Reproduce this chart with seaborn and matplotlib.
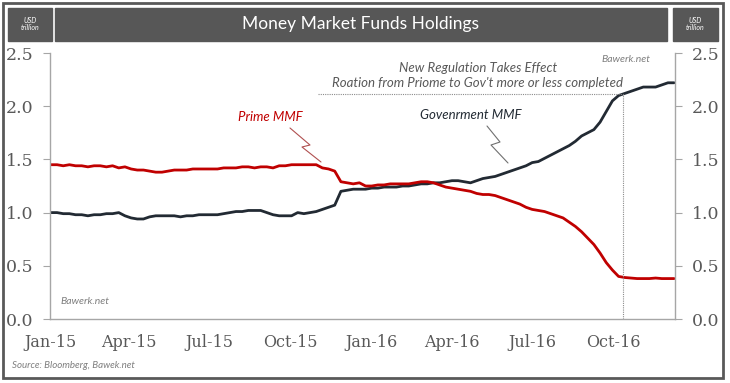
import pandas as pd
import matplotlib.pyplot as plt
import seaborn as sns
from matplotlib.patches import Rectangle
from matplotlib.lines import Line2D

# ----------------------------------------------------------
# Data (USD trillion, weekly)
# ----------------------------------------------------------

start_date = "2015-01-02"

government = [
    1.00, 1.00, 0.99, 0.99, 0.98, 0.98, 0.97, 0.98, 0.98, 0.99,
    0.99, 1.00, 0.97, 0.95, 0.94, 0.94, 0.96, 0.97, 0.97, 0.97,
    0.97, 0.96, 0.97, 0.97, 0.98, 0.98, 0.98, 0.98, 0.99, 1.00,
    1.01, 1.01, 1.02, 1.02, 1.02, 1.00, 0.98, 0.97, 0.97, 0.97,
    1.00, 0.99, 1.00, 1.01, 1.03, 1.05, 1.07, 1.20, 1.21, 1.22,
    1.22, 1.22, 1.23, 1.23, 1.24, 1.24, 1.24, 1.25, 1.25, 1.26,
    1.27, 1.27, 1.28, 1.28, 1.29, 1.30, 1.30, 1.29, 1.28, 1.30,
    1.32, 1.33, 1.34, 1.36, 1.38, 1.40, 1.42, 1.44, 1.47, 1.48,
    1.51, 1.54, 1.57, 1.60, 1.63, 1.67, 1.72, 1.75, 1.78, 1.85,
    1.95, 2.05, 2.10, 2.12, 2.14, 2.16, 2.18, 2.18, 2.18, 2.20,
    2.22, 2.22,
]

prime = [
    1.45, 1.45, 1.44, 1.45, 1.44, 1.44, 1.43, 1.44, 1.44, 1.43,
    1.44, 1.42, 1.43, 1.41, 1.40, 1.40, 1.39, 1.38, 1.38, 1.39,
    1.40, 1.40, 1.40, 1.41, 1.41, 1.41, 1.41, 1.41, 1.42, 1.42,
    1.42, 1.43, 1.43, 1.42, 1.43, 1.43, 1.42, 1.44, 1.44, 1.45,
    1.45, 1.45, 1.45, 1.45, 1.42, 1.41, 1.39, 1.29, 1.28, 1.27,
    1.28, 1.25, 1.25, 1.26, 1.26, 1.27, 1.27, 1.27, 1.27, 1.28,
    1.29, 1.29, 1.28, 1.26, 1.24, 1.23, 1.22, 1.21, 1.20, 1.18,
    1.17, 1.17, 1.16, 1.14, 1.12, 1.10, 1.08, 1.05, 1.03, 1.02,
    1.01, 0.99, 0.97, 0.95, 0.91, 0.87, 0.82, 0.76, 0.70, 0.62,
    0.53, 0.46, 0.40, 0.39, 0.385, 0.38, 0.38, 0.38, 0.385, 0.38,
    0.38, 0.38,
]

tick_dates = ["2015-01-01", "2015-04-01", "2015-07-01", "2015-10-01",
              "2016-01-01", "2016-04-01", "2016-07-01", "2016-10-01"]
tick_labels = ["Jan-15", "Apr-15", "Jul-15", "Oct-15",
               "Jan-16", "Apr-16", "Jul-16", "Oct-16"]
y_ticks = [0.0, 0.5, 1.0, 1.5, 2.0, 2.5]

regulation_date = "2016-10-12"
regulation_level = 2.115
regulation_line_start = "2015-11-01"

dates = pd.date_range(start_date, periods=len(government), freq="7D")
df = pd.DataFrame({
    "Date": list(dates) * 2,
    "Value": government + prime,
    "Fund": ["Government MMF"] * len(government) + ["Prime MMF"] * len(prime),
})

# ----------------------------------------------------------
# Style
# ----------------------------------------------------------

sns.set_style("white")

W, H = 730, 383
GREY = "#595959"
RED = "#c00000"
NAVY = "#222a33"
SANS = ["Lato", "DejaVu Sans"]
SERIF = ["DejaVu Serif"]


def fx(x):
    return x / W


def fy(y):
    return 1 - y / H


fig = plt.figure(figsize=(W / 100, H / 100), dpi=100)
ax = fig.add_axes([fx(50), fy(319), fx(675) - fx(50), fy(53) - fy(319)])

sns.lineplot(
    data=df,
    x="Date",
    y="Value",
    hue="Fund",
    palette={"Government MMF": NAVY, "Prime MMF": RED},
    linewidth=2.0,
    legend=False,
    ax=ax,
)

ax.set_xlim(pd.Timestamp("2015-01-01"), pd.Timestamp("2016-12-10"))
ax.set_ylim(0, 2.5)
ax.set_xticks(pd.to_datetime(tick_dates))
ax.set_xticklabels(tick_labels, fontfamily=SERIF, fontsize=11.5, color=GREY)
ax.set_yticks(y_ticks)
ax.set_yticklabels([f"{v:.1f}" for v in y_ticks], fontfamily=SERIF, fontsize=12.5, color=GREY)
ax.tick_params(axis="y", which="both", left=True, right=True, labelleft=True,
               labelright=True, direction="out", length=5, color="#a6a6a6", pad=7)
ax.tick_params(axis="x", direction="out", length=5, color="#a6a6a6", pad=6)
ax.set_xlabel("")
ax.set_ylabel("")

for side in ["left", "right", "bottom"]:
    ax.spines[side].set_color("#a6a6a6")
    ax.spines[side].set_linewidth(1.0)
ax.spines["top"].set_visible(False)

# regulation marker lines
reg = pd.Timestamp(regulation_date)
ax.plot([pd.Timestamp(regulation_line_start), reg], [regulation_level] * 2,
        color="#8c8c8c", lw=0.8, ls=(0, (1, 1)))
ax.plot([reg, reg], [0, regulation_level], color="#8c8c8c", lw=0.8, ls=(0, (1, 1)))

# ----------------------------------------------------------
# Header and frame
# ----------------------------------------------------------

fig.patches.append(Rectangle((fx(3), fy(378)), fx(720), fy(3) - fy(378) + 0,
                             transform=fig.transFigure, fill=False,
                             edgecolor="#595959", lw=2.0))
for x0, x1 in [(8, 52), (55, 667), (673, 718)]:
    fig.patches.append(Rectangle((fx(x0), fy(41)), fx(x1 - x0), fy(8) - fy(41),
                                 transform=fig.transFigure, color="#575757"))

fig.text(fx(361), fy(24), "Money Market Funds Holdings", color="white",
         fontsize=12.5, family=SANS, ha="center", va="center")
for cx in [30, 695]:
    fig.text(fx(cx), fy(24), "USD\ntrillion", color="white", fontsize=5,
             family=SANS, style="italic", ha="center", va="center", linespacing=1.1)

# ----------------------------------------------------------
# Annotations
# ----------------------------------------------------------

fig.text(fx(270), fy(117), "Prime MMF", color=RED, fontsize=9.5,
         family=SANS, style="italic", ha="center", va="center")
fig.text(fx(471), fy(115), "Govenrment MMF", color=NAVY, fontsize=9.5,
         family=SANS, style="italic", ha="center", va="center")
fig.text(fx(478), fy(68), "New Regulation Takes Effect", color=GREY, fontsize=9.5,
         family=SANS, style="italic", ha="center", va="center")
fig.text(fx(478), fy(83), "Roation from Priome to Gov't more or less completed",
         color=GREY, fontsize=9.5, family=SANS, style="italic", ha="center", va="center")

zig_prime = [(290, 128), (310, 145), (302, 147), (321, 162)]
zig_gov = [(487, 126), (500, 142), (491, 145), (508, 163)]
for pts, col in [(zig_prime, "#b05050"), (zig_gov, "#707070")]:
    fig.lines.append(Line2D([fx(p[0]) for p in pts], [fy(p[1]) for p in pts],
                            transform=fig.transFigure, color=col, lw=0.8))

fig.text(fx(650), fy(60), "Bawerk.net", color="#7f7f7f", fontsize=7.5,
         family=SANS, style="italic", ha="right", va="center")
fig.text(fx(60), fy(301), "Bawerk.net", color="#7f7f7f", fontsize=7.5,
         family=SANS, style="italic", ha="left", va="center")
fig.text(fx(12), fy(366), "Source: Bloomberg, Bawek.net", color="#7f7f7f",
         fontsize=7, family=SANS, style="italic", ha="left", va="center")

plt.savefig("out.png", dpi=100)
